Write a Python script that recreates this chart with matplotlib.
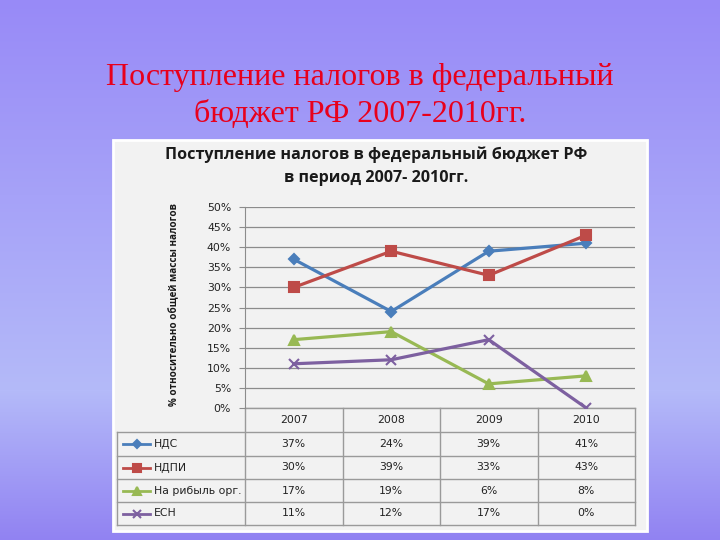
import numpy as np
import matplotlib.pyplot as plt
from matplotlib.patches import Rectangle

# data
years = ["2007", "2008", "2009", "2010"]
series_names = ["НДС", "НДПИ", "На рибыль орг.", "ЕСН"]
nds = [37, 24, 39, 41]
ndpi = [30, 39, 33, 43]
profit = [17, 19, 6, 8]
esn = [11, 12, 17, 0]
yticks = [0, 5, 10, 15, 20, 25, 30, 35, 40, 45, 50]

values = [nds, ndpi, profit, esn]
colors = ["#4a7ebb", "#be4b48", "#98b954", "#7d60a0"]
markers = ["D", "s", "^", "x"]
msizes = [5, 7, 7, 7]

W, H = 720, 540
fig = plt.figure(figsize=(7.2, 5.4), dpi=100)

# full-figure canvas in pixel coords
bg = fig.add_axes([0, 0, 1, 1])
bg.set_xlim(0, W)
bg.set_ylim(H, 0)
bg.axis("off")

# purple slide gradient
stops_y = [0, 390, 540]
stops_c = np.array([[152, 138, 247], [180, 186, 249], [145, 130, 242]]) / 255
yy = np.arange(H)
grad = np.stack([np.interp(yy, stops_y, stops_c[:, k]) for k in range(3)], axis=-1)
grad = np.repeat(grad[:, None, :], 2, axis=1)
bg.imshow(grad, extent=[0, W, H, 0], aspect="auto", zorder=0)

# slide title
bg.text(360, 78, "Поступление налогов в федеральный", color="#e8001c",
        family="Liberation Serif", fontsize=23, ha="center", va="center")
bg.text(360, 115, "бюджет РФ 2007-2010гг.", color="#e8001c",
        family="Liberation Serif", fontsize=23, ha="center", va="center")

# chart panel
bg.add_patch(Rectangle((113, 140), 534, 391, facecolor="#f2f2f2",
                       edgecolor="white", lw=2, zorder=1))
bg.text(376, 155, "Поступление налогов в федеральный бюджет РФ",
        family="Open Sans", weight="bold", fontsize=11.6, ha="center", va="center", color="#1a1a1a")
bg.text(376, 178, "в период 2007- 2010гг.",
        family="Open Sans", weight="bold", fontsize=11.6, ha="center", va="center", color="#1a1a1a")
bg.text(175, 305, "% относительно общей массы налогов", rotation=90,
        family="Open Sans", weight="bold", fontsize=7.1, ha="center", va="center", color="#1a1a1a")

# data table under the plot
x_left, x0, x1 = 117, 245, 635
col_w = (x1 - x0) / len(years)
row_y = [408, 432, 456, 479, 502, 525]
gc = "#9a9a9a"
bg.plot([x0, x1], [row_y[0], row_y[0]], color=gc, lw=1, zorder=2)
for y in row_y[1:]:
    bg.plot([x_left, x1], [y, y], color=gc, lw=1, zorder=2)
bg.plot([x_left, x_left], [row_y[1], row_y[-1]], color=gc, lw=1, zorder=2)
for i in range(len(years) + 1):
    bg.plot([x0 + i * col_w] * 2, [row_y[0], row_y[-1]], color=gc, lw=1, zorder=2)
for j, yr in enumerate(years):
    bg.text(x0 + (j + 0.5) * col_w, (row_y[0] + row_y[1]) / 2, yr,
            fontsize=7.8, ha="center", va="center", color="#222222")
for i, (name, vals) in enumerate(zip(series_names, values)):
    yc = (row_y[i + 1] + row_y[i + 2]) / 2
    bg.plot([123, 150], [yc, yc], color=colors[i], lw=2, zorder=3)
    bg.plot([136.5], [yc], marker=markers[i], color=colors[i], ms=msizes[i] - 1,
            mew=1.5, zorder=4)
    bg.text(154, yc, name, fontsize=7.8, ha="left", va="center", color="#222222")
    for j, v in enumerate(vals):
        bg.text(x0 + (j + 0.5) * col_w, yc, f"{v}%", fontsize=7.8,
                ha="center", va="center", color="#222222")

# line chart
ax = fig.add_axes([x0 / W, 1 - 408 / H, (x1 - x0) / W, (408 - 207) / H])
ax.set_facecolor("none")
xs = np.arange(len(years))
for i, vals in enumerate(values):
    ax.plot(xs, vals, color=colors[i], lw=2.3, marker=markers[i],
            ms=msizes[i], mew=1.5, zorder=3)
ax.set_xlim(-0.5, 3.5)
ax.set_ylim(0, 50)
ax.set_yticks(yticks)
ax.set_yticklabels([f"{t}%" for t in yticks], fontsize=7.8, color="#222222")
ax.set_xticks([])
ax.grid(axis="y", color="#8c8c8c", lw=0.9)
ax.tick_params(axis="y", length=4, color="#8c8c8c", pad=6)
for s in ["top", "right", "bottom"]:
    ax.spines[s].set_visible(False)
ax.spines["left"].set_color("#8c8c8c")

fig.savefig("out.png", dpi=100)
